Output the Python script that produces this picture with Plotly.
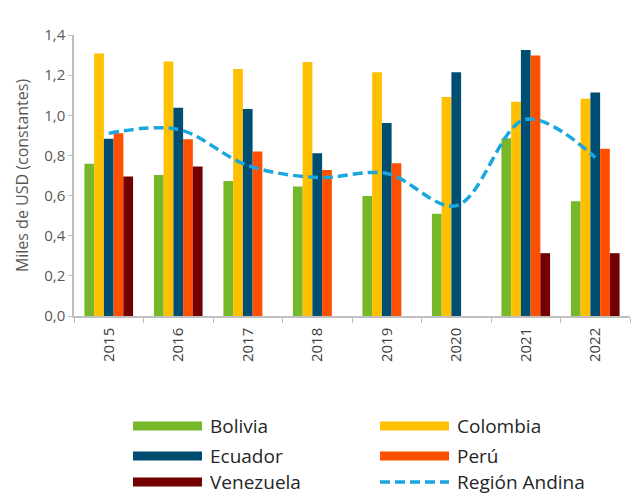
import plotly.graph_objects as go

years = ["2015", "2016", "2017", "2018", "2019", "2020", "2021", "2022"]

bolivia = [0.758, 0.703, 0.672, 0.645, 0.598, 0.509, 0.886, 0.572]
colombia = [1.308, 1.268, 1.230, 1.265, 1.214, 1.091, 1.067, 1.082]
ecuador = [0.883, 1.037, 1.031, 0.811, 0.961, 1.215, 1.325, 1.114]
peru = [0.911, 0.881, 0.820, 0.728, 0.761, None, 1.298, 0.833]
venezuela = [0.695, 0.745, None, None, None, None, 0.313, 0.313]
region_andina = [0.91, 0.93, 0.75, 0.69, 0.71, 0.55, 0.98, 0.79]

y_ticks = [0.0, 0.2, 0.4, 0.6, 0.8, 1.0, 1.2, 1.4]
y_tick_text = ["0,0", "0,2", "0,4", "0,6", "0,8", "1,0", "1,2", "1,4"]

bar_series = [
    ("Bolivia", bolivia, "#77B82A"),
    ("Colombia", colombia, "#FFC000"),
    ("Ecuador", ecuador, "#004F73"),
    ("Perú", peru, "#FF5000"),
    ("Venezuela", venezuela, "#720000"),
]
line_name = "Región Andina"
line_color = "#1AA6DF"

W, H = 631, 495
ML, MR, MT, MB = 74, 1, 35, 179
plot_w = W - ML - MR
plot_h = H - MT - MB

fig = go.Figure()
for name, vals, color in bar_series:
    fig.add_trace(go.Bar(
        x=years, y=vals, name=name, marker_color=color,
        marker_line_width=0, showlegend=False,
    ))

fig.add_trace(go.Scatter(
    x=years, y=region_andina, name=line_name, mode="lines",
    line=dict(color=line_color, width=3.5, dash="10px,5px",
              shape="spline", smoothing=1.0),
    showlegend=False,
))

# Legend drawn as two columns of swatches with labels
def px_x(px):
    return (px - ML) / plot_w

def px_y(py):
    return (H - MB - py) / plot_h

legend_items = [(n, c, "bar") for n, _, c in bar_series] + [(line_name, line_color, "line")]
col_x = [133, 380]
row_y = [426, 456, 482]
shapes = []
annotations = []
for i, (name, color, kind) in enumerate(legend_items):
    cx = col_x[i % 2]
    ry = row_y[i // 2]
    if kind == "bar":
        line = dict(color=color, width=9)
    else:
        line = dict(color=color, width=3.5, dash="10px,5px")
    shapes.append(dict(
        type="line", xref="paper", yref="paper",
        x0=px_x(cx), x1=px_x(cx + 69), y0=px_y(ry), y1=px_y(ry),
        line=line,
    ))
    annotations.append(dict(
        xref="paper", yref="paper", x=px_x(cx + 75), y=px_y(ry),
        text=name, showarrow=False, xanchor="left", yanchor="middle",
        font=dict(family="Open Sans", size=19, color="#262626"),
    ))

fig.update_layout(
    width=W, height=H,
    margin=dict(l=ML, r=MR, t=MT, b=MB),
    paper_bgcolor="white", plot_bgcolor="white",
    barmode="group", bargap=0.3, bargroupgap=0,
    font=dict(family="Open Sans", color="#595959"),
    shapes=shapes, annotations=annotations,
    showlegend=False,
)
fig.update_xaxes(
    type="category", showline=True, linecolor="#BFBFBF", linewidth=1.5,
    ticks="outside", tickson="boundaries", ticklen=5, tickcolor="#BFBFBF",
    tickangle=-90, ticklabelstandoff=4,
    tickfont=dict(size=15, color="#404040"), showgrid=False,
)
fig.update_yaxes(
    range=[0, 1.4], tickvals=y_ticks, ticktext=y_tick_text,
    showline=True, linecolor="#BFBFBF", linewidth=1.5,
    ticks="outside", ticklen=4, tickcolor="#BFBFBF",
    tickfont=dict(size=15, color="#595959"), showgrid=False, zeroline=False,
    title=dict(text="Miles de USD (constantes)", font=dict(size=16, color="#595959"), standoff=12),
)

fig.write_html("out.html")
